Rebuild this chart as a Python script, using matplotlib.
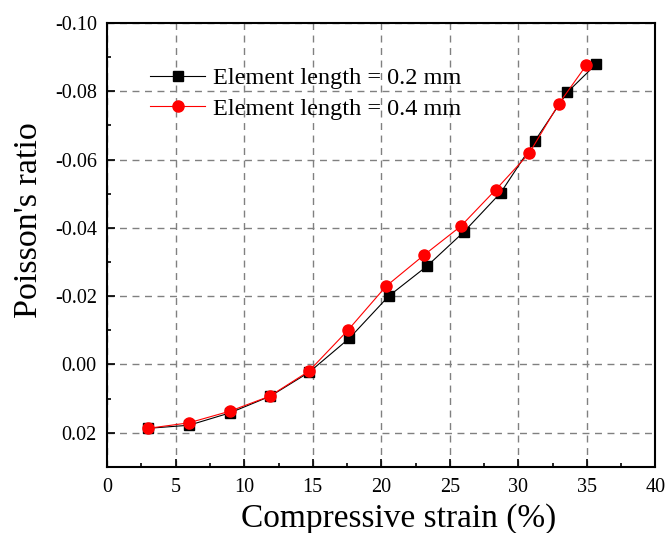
import matplotlib
matplotlib.use('Agg')
import matplotlib.pyplot as plt
from matplotlib.ticker import MultipleLocator, FuncFormatter

plt.rcParams['font.family'] = ['Liberation Serif', 'DejaVu Serif']
plt.rcParams['axes.unicode_minus'] = False

# Data
strain_02 = [3.0, 5.97, 8.94, 11.9, 14.73, 17.68, 20.54, 23.34, 26.05, 28.72, 31.2, 33.58, 35.69]
poisson_02 = [0.0187, 0.0178, 0.0142, 0.0093, 0.0023, -0.0077, -0.0200, -0.0288,
              -0.0389, -0.0503, -0.0654, -0.0797, -0.0880]
strain_04 = [2.99, 5.95, 8.94, 11.85, 14.71, 17.56, 20.35, 23.14, 25.81, 28.36, 30.79, 32.97, 34.96]
poisson_04 = [0.0187, 0.0171, 0.0137, 0.0093, 0.0020, -0.0100, -0.0229, -0.0321,
              -0.0405, -0.0512, -0.0618, -0.0764, -0.0876]

fig = plt.figure(figsize=(6.66, 5.33), dpi=100)
ax = fig.add_axes([0.161, 0.124, 0.823, 0.833])

ax.plot(strain_02, poisson_02, color='black', lw=0.8, marker='s', markersize=6.8,
        label='Element length = 0.2 mm')
ax.plot(strain_04, poisson_04, color='red', lw=0.8, marker='o', markersize=8,
        label='Element length = 0.4 mm')

ax.set_xlim(0, 40)
ax.set_ylim(0.03, -0.10)

ax.xaxis.set_major_locator(MultipleLocator(5))
ax.xaxis.set_minor_locator(MultipleLocator(2.5))
ax.yaxis.set_major_locator(MultipleLocator(0.02))
ax.yaxis.set_minor_locator(MultipleLocator(0.01))
ax.yaxis.set_major_formatter(FuncFormatter(lambda v, p: f'{round(v, 4) + 0.0:.2f}'))

ax.tick_params(which='both', direction='in', top=False, right=False, labelsize=14.5)
ax.tick_params(which='major', length=6, width=1.2)
ax.tick_params(which='minor', length=3, width=1.2)
ax.tick_params(axis='y', pad=7.5)
ax.tick_params(axis='x', pad=8)

for sp in ax.spines.values():
    sp.set_linewidth(1.5)

ax.grid(True, which='major', color='gray', linestyle=(0, (5, 4)), linewidth=1.0)

ax.set_xlabel('Compressive strain (%)', fontsize=24)
ax.set_ylabel("Poisson's ratio", fontsize=24.5)
ax.xaxis.set_label_coords(0.531, -0.081)
ax.yaxis.set_label_coords(-0.115, 0.556)

ax.legend(loc='upper left', bbox_to_anchor=(0.0785, 0.90), frameon=False, fontsize=17.5,
          handlelength=2.26, handletextpad=0.33, labelspacing=0.35, borderpad=0, borderaxespad=0)

fig.savefig('out.png', dpi=100)
